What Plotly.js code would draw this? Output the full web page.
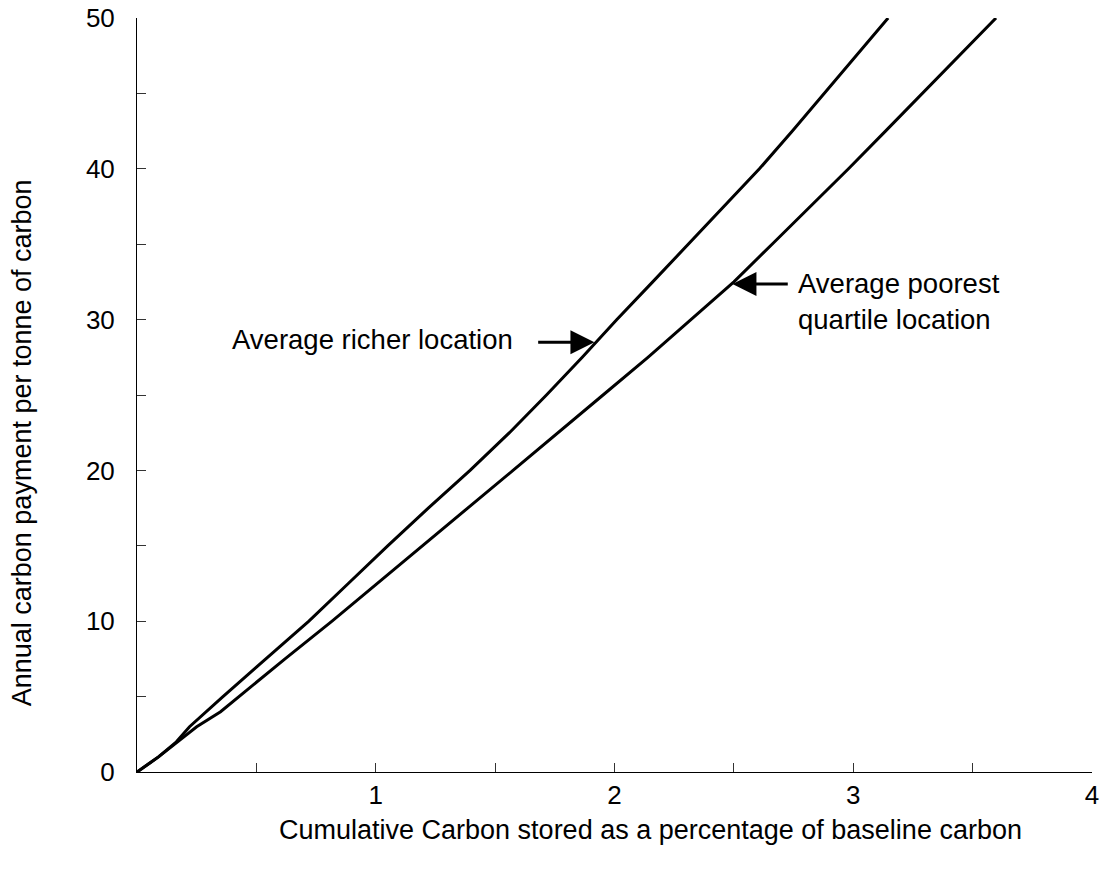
<!DOCTYPE html>
<html>
<head>
<meta charset="utf-8">
<script src="https://cdn.plot.ly/plotly-3.0.1.min.js"></script>
<style>html,body{margin:0;padding:0;background:#fff;}#chart{width:1109px;height:874px;}</style>
</head>
<body>
<div id="chart"></div>
<script>
// Average richer location
const richerX = [0, 0.09, 0.165, 0.22, 0.36, 0.54, 0.72, 0.885, 1.05, 1.22, 1.395, 1.56, 1.715, 1.865, 2.01, 2.16, 2.31, 2.46, 2.607, 2.745, 2.879, 3.012, 3.146];
const richerY = [0, 1, 2, 3, 5, 7.5, 10, 12.5, 15, 17.5, 20, 22.5, 25, 27.5, 30, 32.5, 35, 37.5, 40, 42.5, 45, 47.5, 50];
// Average poorest quartile location
const poorX = [0, 0.09, 0.17, 0.25, 0.35, 0.426, 0.62, 0.817, 1.005, 1.196, 1.385, 1.575, 1.765, 1.952, 2.14, 2.32, 2.50, 2.66, 2.82, 2.98, 3.135, 3.29, 3.445, 3.598];
const poorY = [0, 1, 2, 3, 4, 5, 7.5, 10, 12.5, 15, 17.5, 20, 22.5, 25, 27.5, 30, 32.5, 35, 37.5, 40, 42.5, 45, 47.5, 50];

const xTickVals = [0.5, 1, 1.5, 2, 2.5, 3, 3.5, 4];
const xTickText = ['', '1', '', '2', '', '3', '', '4'];
const yTickVals = [0, 5, 10, 15, 20, 25, 30, 35, 40, 45, 50];
const yTickText = ['0', '', '10', '', '20', '', '30', '', '40', '', '50'];

const xTitle = 'Cumulative Carbon stored as a percentage of baseline carbon';
const yTitle = 'Annual carbon payment per tonne of carbon';
const richerLabel = 'Average richer location';
const poorLabel = 'Average poorest<br>quartile location';

const FONT = 'Liberation Sans, Arial, sans-serif';

const traces = [
  {x: richerX, y: richerY, mode: 'lines', line: {color: '#000', width: 3}, name: 'Average richer location'},
  {x: poorX, y: poorY, mode: 'lines', line: {color: '#000', width: 3}, name: 'Average poorest quartile location'}
];

const layout = {
  width: 1109, height: 874,
  margin: {l: 137, r: 17, t: 18, b: 102},
  paper_bgcolor: '#fff', plot_bgcolor: '#fff',
  showlegend: false,
  font: {family: FONT, color: '#000', size: 26},
  xaxis: {
    range: [0, 4], showgrid: false, zeroline: false,
    showline: true, linecolor: '#000', linewidth: 1,
    ticks: 'inside', ticklen: 9, tickcolor: '#333', tickwidth: 1,
    tickmode: 'array', tickvals: xTickVals, ticktext: xTickText,
    tickfont: {family: FONT, size: 26, color: '#000'},
    ticklabelstandoff: 0,
    fixedrange: true
  },
  yaxis: {
    range: [0, 50], showgrid: false, zeroline: false,
    showline: true, linecolor: '#000', linewidth: 1,
    ticks: 'inside', ticklen: 9, tickcolor: '#333', tickwidth: 1,
    tickmode: 'array', tickvals: yTickVals, ticktext: yTickText,
    tickfont: {family: FONT, size: 26, color: '#000'},
    ticklabelstandoff: 16,
    fixedrange: true
  },
  annotations: [
    {xref: 'paper', yref: 'paper', x: 0.538, y: -0.077, text: xTitle, showarrow: false,
     font: {family: FONT, size: 27, color: '#000'}, xanchor: 'center', yanchor: 'middle'},
    {xref: 'paper', yref: 'paper', x: -0.1204, y: 0.436, text: yTitle, showarrow: false, textangle: -90,
     font: {family: FONT, size: 27, color: '#000'}, xanchor: 'center', yanchor: 'middle'},
    {xref: 'x', yref: 'y', x: 0.389, y: 28.65, text: richerLabel, showarrow: false,
     font: {family: FONT, size: 27.5, color: '#000'}, xanchor: 'left', yanchor: 'middle'},
    {xref: 'x', yref: 'y', x: 2.762, y: 31.2, text: poorLabel, showarrow: false, align: 'left',
     font: {family: FONT, size: 27.5, color: '#000'}, xanchor: 'left', yanchor: 'middle'},
    {xref: 'x', yref: 'y', axref: 'x', ayref: 'y', x: 1.916, y: 28.5, ax: 1.674, ay: 28.5, text: '',
     showarrow: true, arrowhead: 2, arrowsize: 1.6, arrowwidth: 3, arrowcolor: '#000'},
    {xref: 'x', yref: 'y', axref: 'x', ayref: 'y', x: 2.494, y: 32.36, ax: 2.732, ay: 32.36, text: '',
     showarrow: true, arrowhead: 2, arrowsize: 1.6, arrowwidth: 3, arrowcolor: '#000'}
  ]
};

Plotly.newPlot('chart', traces, layout, {displayModeBar: false, staticPlot: true});
</script>
</body>
</html>
